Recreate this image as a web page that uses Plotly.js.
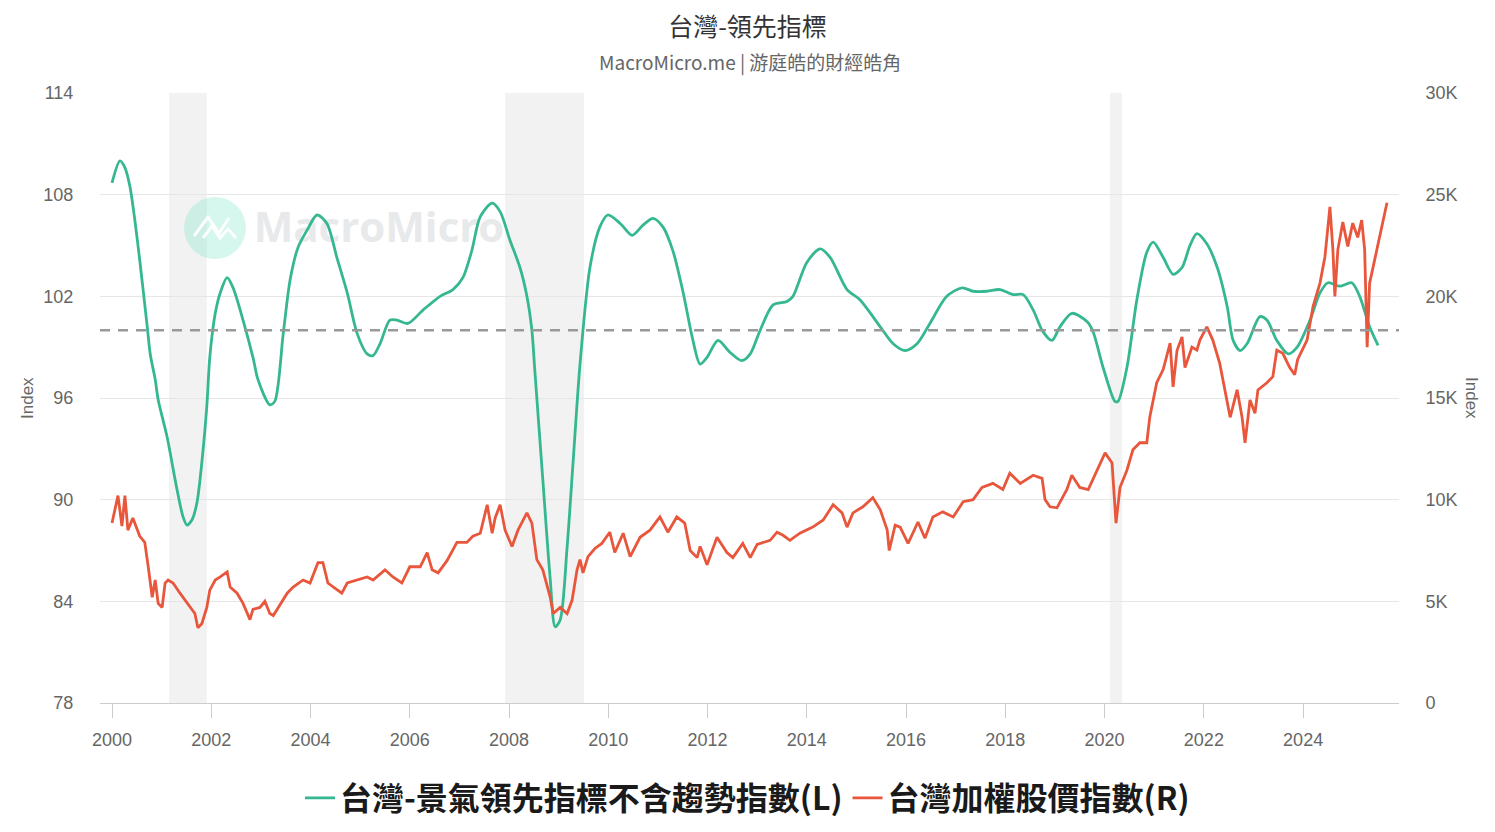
<!DOCTYPE html>
<html>
<head>
<meta charset="utf-8">
<script src="https://cdn.plot.ly/plotly-3.0.1.min.js"></script>
<style>
  html, body { margin: 0; padding: 0; background: #fff; }
  #chart { width: 1495px; height: 832px; }
</style>
</head>
<body>
<div id="chart"></div>
<script>
// ---------- DATA ----------
// Taiwan leading indicator excl. trend (left axis), decimal years
const leadYears = [
  2000.00,2000.16,2000.26,2000.36,2000.46,2000.56,2000.71,2000.77,2000.87,2000.93,
  2001.11,2001.31,2001.43,2001.51,2001.61,2001.71,2001.81,2001.91,2001.97,2002.08,
  2002.18,2002.32,2002.44,2002.64,2002.84,2002.94,2003.18,2003.28,2003.45,2003.59,
  2003.75,2003.93,2004.13,2004.33,2004.53,2004.74,2004.94,2005.14,2005.26,2005.40,
  2005.60,2005.74,2005.96,2006.27,2006.61,2006.87,2007.07,2007.25,2007.42,2007.66,
  2007.82,2008.02,2008.22,2008.36,2008.46,2008.52,2008.68,2008.83,2008.93,2009.03,
  2009.17,2009.29,2009.43,2009.63,2009.83,2009.99,2010.24,2010.48,2010.70,2010.90,
  2011.10,2011.30,2011.51,2011.69,2011.85,2011.99,2012.21,2012.45,2012.69,2012.86,
  2013.06,2013.32,2013.60,2013.72,2014.00,2014.27,2014.47,2014.81,2015.07,2015.48,
  2015.74,2015.98,2016.22,2016.48,2016.82,2017.13,2017.35,2017.63,2017.89,2018.16,
  2018.36,2018.56,2018.76,2018.94,2019.10,2019.34,2019.65,2019.77,2019.97,2020.21,
  2020.27,2020.45,2020.65,2020.85,2020.98,2021.18,2021.38,2021.56,2021.72,2021.86,
  2022.06,2022.27,2022.47,2022.59,2022.73,2022.87,2023.13,2023.27,2023.47,2023.70,
  2023.88,2024.14,2024.34,2024.50,2024.74,2024.98,2025.14,2025.34,2025.51
];
const leadValues = [
  108.7,110.0,109.6,108.5,106.5,104.1,100.2,98.6,97.1,95.9,
  93.7,90.6,89.0,88.5,88.8,89.8,92.2,95.5,98.4,101.0,
  102.2,103.1,102.5,100.6,98.4,97.1,95.6,95.8,99.8,103.0,
  104.9,105.9,106.8,106.3,104.3,102.2,99.8,98.6,98.5,99.2,
  100.6,100.6,100.4,101.2,102.0,102.4,103.1,104.7,106.7,107.5,
  107.0,105.3,103.7,102.0,100.0,97.6,91.2,85.3,82.5,82.9,
  87.2,92.2,98.0,103.7,106.1,106.8,106.3,105.6,106.2,106.6,
  106.1,104.7,102.2,99.6,98.0,98.4,99.4,98.7,98.2,98.6,
  100.0,101.5,101.7,102.0,104.0,104.8,104.3,102.4,101.8,100.2,
  99.2,98.8,99.2,100.4,102.0,102.5,102.3,102.3,102.4,102.1,
  102.1,101.2,99.9,99.4,100.2,101.0,100.5,99.9,97.8,95.8,
  95.8,97.8,101.8,104.6,105.2,104.3,103.3,103.7,105.0,105.7,
  105.1,103.7,101.4,99.4,98.8,99.2,100.8,100.6,99.4,98.6,
  99.0,100.6,102.2,102.8,102.6,102.8,102.0,100.2,99.1
];

// TAIEX (right axis), decimal years
const taiexYears = [
  2000.00,2000.12,2000.20,2000.26,2000.32,2000.42,2000.56,2000.66,2000.73,2000.81,
  2000.87,2000.93,2001.01,2001.07,2001.13,2001.23,2001.37,2001.51,2001.61,2001.67,
  2001.73,2001.81,2001.91,2001.97,2002.08,2002.18,2002.32,2002.38,2002.52,2002.64,
  2002.78,2002.84,2002.98,2003.08,2003.18,2003.25,2003.53,2003.65,2003.85,2003.99,
  2004.15,2004.25,2004.35,2004.49,2004.63,2004.74,2004.94,2005.14,2005.26,2005.50,
  2005.66,2005.84,2006.00,2006.21,2006.35,2006.45,2006.57,2006.75,2006.95,2007.15,
  2007.27,2007.42,2007.56,2007.66,2007.72,2007.82,2007.92,2008.06,2008.18,2008.36,
  2008.46,2008.56,2008.68,2008.83,2008.89,2009.03,2009.17,2009.27,2009.37,2009.43,
  2009.49,2009.59,2009.73,2009.87,2010.03,2010.13,2010.30,2010.44,2010.64,2010.84,
  2011.04,2011.20,2011.38,2011.54,2011.65,2011.79,2011.85,2011.99,2012.19,2012.39,
  2012.51,2012.71,2012.86,2013.00,2013.26,2013.40,2013.52,2013.66,2013.86,2014.12,
  2014.33,2014.53,2014.71,2014.81,2014.93,2015.13,2015.33,2015.48,2015.62,2015.66,
  2015.78,2015.88,2016.04,2016.24,2016.38,2016.54,2016.74,2016.95,2017.15,2017.35,
  2017.53,2017.75,2017.95,2018.09,2018.30,2018.56,2018.74,2018.80,2018.90,2019.04,
  2019.24,2019.34,2019.50,2019.67,2019.85,2020.01,2020.15,2020.23,2020.31,2020.45,
  2020.57,2020.71,2020.85,2020.91,2021.05,2021.18,2021.32,2021.38,2021.46,2021.56,
  2021.62,2021.76,2021.86,2021.92,2022.06,2022.18,2022.32,2022.39,2022.53,2022.67,
  2022.77,2022.83,2022.93,2023.03,2023.09,2023.27,2023.39,2023.47,2023.59,2023.73,
  2023.83,2023.89,2024.08,2024.20,2024.34,2024.44,2024.54,2024.60,2024.64,2024.70,
  2024.80,2024.90,2025.00,2025.10,2025.18,2025.24,2025.29,2025.34,2025.44,2025.54,
  2025.69
];
const taiexValues = [
  8850,10200,8700,10200,8500,9100,8200,7900,6700,5200,
  6050,4900,4700,5900,6050,5900,5400,4900,4600,4400,
  3700,3900,4700,5550,6050,6200,6450,5700,5400,4900,
  4100,4600,4700,5000,4400,4300,5400,5700,6050,5900,
  6900,6900,5900,5650,5400,5900,6050,6200,6050,6550,
  6200,5900,6700,6700,7400,6550,6400,7000,7900,7900,
  8200,8350,9750,8350,9100,9750,8500,7700,8500,9350,
  8850,7050,6550,5200,4400,4700,4400,5050,6550,7050,
  6400,7200,7600,7850,8400,7400,8350,7200,8150,8500,
  9150,8400,9150,8850,7500,7150,7700,6800,8150,7400,
  7150,7850,7150,7800,8000,8400,8250,8000,8350,8650,
  9000,9750,9350,8650,9350,9650,10100,9500,8500,7500,
  8750,8650,7850,8900,8100,9150,9400,9150,9900,10000,
  10600,10800,10500,11300,10800,11200,11050,10000,9650,9600,
  10500,11200,10600,10500,11450,12300,11800,8850,10600,11450,
  12450,12800,12800,14050,15750,16400,17700,15550,17350,18000,
  16500,17500,17350,17850,18500,17850,16700,15750,14050,15400,
  14050,12800,14900,14250,15400,15750,16050,17350,17200,16500,
  16150,16900,17850,19500,20650,21950,24400,22300,20000,22300,
  23650,22450,23600,22900,23750,22300,17500,20650,21800,22800,
  24600
];

// Recession (shaded) periods, decimal years
const recessionStart = [2001.15, 2007.92, 2020.11];
const recessionEnd   = [2001.91, 2009.51, 2020.35];

// Reference line level
const baseline = 100;

// Axis ticks
const rightTickVals = [0, 5000, 10000, 15000, 20000, 25000, 30000];
const rightTickText = ['0', '5K', '10K', '15K', '20K', '25K', '30K'];

const seriesNames = ['台灣-景氣領先指標不含趨勢指數(L)', '台灣加權股價指數(R)'];
const titleText = '台灣-領先指標';
const subtitleText = 'MacroMicro.me | 游庭皓的財經皓角';

// ---------- STYLE ----------
const CJK = '"Noto Sans CJK TC", "Noto Sans CJK SC", sans-serif';
const NUM = '"Liberation Sans", Arial, "DejaVu Sans", sans-serif';
const GREEN = '#35b891';
const RED = '#e8563c';

const W = 1495, H = 832;
const M = {l: 100, r: 96, t: 93, b: 129};

const traces = [
  {
    x: leadYears, y: leadValues, name: seriesNames[0], type: 'scatter', mode: 'lines',
    line: {color: GREEN, width: 2.8, shape: 'spline', smoothing: 0.8},
    yaxis: 'y', hovertemplate: '%{y:.2f}<extra>' + seriesNames[0] + '</extra>'
  },
  {
    x: taiexYears, y: taiexValues, name: seriesNames[1], type: 'scatter', mode: 'lines',
    line: {color: RED, width: 2.8},
    yaxis: 'y2', hovertemplate: '%{y:,.0f}<extra>' + seriesNames[1] + '</extra>'
  }
];

const shapes = [];
for (let i = 0; i < recessionStart.length; i++) {
  shapes.push({
    type: 'rect', xref: 'x', yref: 'paper',
    x0: recessionStart[i], x1: recessionEnd[i], y0: 0, y1: 1,
    fillcolor: '#f2f2f2', line: {width: 0}, layer: 'below'
  });
}
shapes.push({
  type: 'line', xref: 'paper', yref: 'y', x0: 0, x1: 1, y0: baseline, y1: baseline,
  line: {color: '#999999', width: 2.5, dash: '10px,8px'}, layer: 'above'
});
// watermark (decorative)
const px = v => (v - M.l) / (W - M.l - M.r);
const py = v => (H - M.b - v) / (H - M.t - M.b);
shapes.push({
  type: 'circle', xref: 'paper', yref: 'paper',
  x0: px(184), x1: px(246), y0: py(259), y1: py(197),
  fillcolor: 'rgba(120,230,200,0.30)', line: {width: 0}, layer: 'below'
});
shapes.push({
  type: 'path', xref: 'paper', yref: 'paper', layer: 'below',
  path: `M${px(194)},${py(236)} L${px(208)},${py(217)} L${px(219)},${py(233)} L${px(229)},${py(218)}`,
  line: {color: 'rgba(255,255,255,0.9)', width: 3}
});
shapes.push({
  type: 'path', xref: 'paper', yref: 'paper', layer: 'below',
  path: `M${px(203)},${py(238)} L${px(212)},${py(226)} L${px(220)},${py(238)} L${px(228)},${py(229)} L${px(236)},${py(238)}`,
  line: {color: 'rgba(255,255,255,0.9)', width: 3}
});
shapes.push({
  type: 'rect', xref: 'paper', yref: 'paper', layer: 'below',
  x0: px(255), x1: px(503), y0: py(252), y1: py(204),
  fillcolor: 'rgba(0,0,0,0)', line: {width: 0},
  label: {text: 'MacroMicro', textposition: 'middle center',
          font: {family: '"Open Sans", Roboto, sans-serif', size: 42, color: '#e8e9eb', weight: 700}}
});

const layout = {
  width: W, height: H,
  paper_bgcolor: '#ffffff', plot_bgcolor: '#ffffff',
  margin: M,
  font: {family: NUM, color: '#666666', size: 18},
  showlegend: true,
  hovermode: 'x unified',
  title: {
    text: titleText, x: 0.5, xanchor: 'center', xref: 'container',
    y: 1 - 27 / H, yanchor: 'middle', yref: 'container',
    font: {family: CJK, size: 25, color: '#333333'}
  },
  annotations: [
    {text: subtitleText, xref: 'paper', yref: 'paper', x: 0.5, y: py(62),
     xanchor: 'center', yanchor: 'middle', showarrow: false,
     font: {family: CJK, size: 19, color: '#666666'}},
    {text: 'Index', xref: 'paper', yref: 'paper', x: px(27), y: py(398),
     xanchor: 'center', yanchor: 'middle', showarrow: false, textangle: -90,
     font: {family: NUM, size: 17, color: '#666666'}},
    {text: 'Index', xref: 'paper', yref: 'paper', x: px(1472), y: py(398),
     xanchor: 'center', yanchor: 'middle', showarrow: false, textangle: 90,
     font: {family: NUM, size: 17, color: '#666666'}}
  ],
  xaxis: {
    range: [1999.758, 2025.932], tick0: 2000, dtick: 2, tickformat: 'd',
    ticks: 'outside', ticklen: 14, tickcolor: '#cccccc', tickwidth: 1,
    ticklabelstandoff: 6,
    showline: true, linecolor: '#cccccc', linewidth: 1,
    showgrid: false, zeroline: false,
    tickfont: {family: NUM, size: 18, color: '#666666'}
  },
  yaxis: {
    range: [78, 114], tick0: 78, dtick: 6,
    gridcolor: '#e6e6e6', gridwidth: 1, zeroline: false, showline: false,
    ticks: 'outside', ticklen: 22, tickcolor: 'rgba(0,0,0,0)',
    tickfont: {family: NUM, size: 18, color: '#666666'}
  },
  yaxis2: {
    overlaying: 'y', side: 'right', range: [0, 30000],
    tickvals: rightTickVals, ticktext: rightTickText,
    showgrid: false, zeroline: false, showline: false,
    ticks: 'outside', ticklen: 22, tickcolor: 'rgba(0,0,0,0)',
    tickfont: {family: NUM, size: 18, color: '#666666'}
  },
  legend: {
    orientation: 'h', x: 0.5, xanchor: 'center', xref: 'container',
    y: 1 - 798 / H, yanchor: 'middle', yref: 'container',
    font: {family: CJK, size: 32, color: '#1a1a1a', weight: 'bold'},
    bgcolor: 'rgba(0,0,0,0)'
  },
  shapes: shapes
};

Plotly.newPlot('chart', traces, layout, {displayModeBar: false, responsive: false});
</script>
</body>
</html>
